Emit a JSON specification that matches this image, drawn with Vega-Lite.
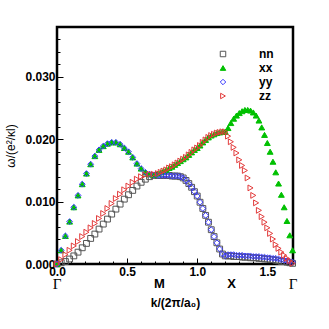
{
  "$schema": "https://vega.github.io/schema/vega-lite/v6.json",
  "width": 236,
  "height": 237,
  "autosize": {"type": "none"},
  "padding": {"left": 57, "top": 27, "right": 36, "bottom": 65},
  "config": {
    "view": {"stroke": "black", "strokeWidth": 2.5},
    "font": "Liberation Sans"
  },
  "datasets": {
    "bands": [
      {"k": 0.00, "nn": 0.0000, "xx": 0.0000, "yy": 0.0000, "zz": 0.0000},
      {"k": 0.03, "nn": 0.0002, "xx": 0.0022, "yy": 0.0022, "zz": 0.0007},
      {"k": 0.06, "nn": 0.0004, "xx": 0.0045, "yy": 0.0045, "zz": 0.0015},
      {"k": 0.09, "nn": 0.0008, "xx": 0.0068, "yy": 0.0068, "zz": 0.0022},
      {"k": 0.12, "nn": 0.0013, "xx": 0.0091, "yy": 0.0091, "zz": 0.0029},
      {"k": 0.15, "nn": 0.0019, "xx": 0.0110, "yy": 0.0110, "zz": 0.0036},
      {"k": 0.18, "nn": 0.0026, "xx": 0.0128, "yy": 0.0128, "zz": 0.0044},
      {"k": 0.21, "nn": 0.0033, "xx": 0.0145, "yy": 0.0145, "zz": 0.0051},
      {"k": 0.24, "nn": 0.0041, "xx": 0.0160, "yy": 0.0160, "zz": 0.0058},
      {"k": 0.27, "nn": 0.0048, "xx": 0.0173, "yy": 0.0173, "zz": 0.0065},
      {"k": 0.30, "nn": 0.0056, "xx": 0.0183, "yy": 0.0183, "zz": 0.0073},
      {"k": 0.33, "nn": 0.0064, "xx": 0.0189, "yy": 0.0189, "zz": 0.0081},
      {"k": 0.36, "nn": 0.0072, "xx": 0.0193, "yy": 0.0193, "zz": 0.0089},
      {"k": 0.39, "nn": 0.0080, "xx": 0.0195, "yy": 0.0195, "zz": 0.0097},
      {"k": 0.42, "nn": 0.0088, "xx": 0.0195, "yy": 0.0195, "zz": 0.0105},
      {"k": 0.45, "nn": 0.0096, "xx": 0.0192, "yy": 0.0192, "zz": 0.0112},
      {"k": 0.48, "nn": 0.0104, "xx": 0.0186, "yy": 0.0186, "zz": 0.0119},
      {"k": 0.51, "nn": 0.0111, "xx": 0.0180, "yy": 0.0180, "zz": 0.0125},
      {"k": 0.54, "nn": 0.0118, "xx": 0.0171, "yy": 0.0171, "zz": 0.0131},
      {"k": 0.57, "nn": 0.0125, "xx": 0.0161, "yy": 0.0161, "zz": 0.0136},
      {"k": 0.60, "nn": 0.0131, "xx": 0.0153, "yy": 0.0153, "zz": 0.0140},
      {"k": 0.63, "nn": 0.0136, "xx": 0.0147, "yy": 0.0147, "zz": 0.0143},
      {"k": 0.66, "nn": 0.0140, "xx": 0.0144, "yy": 0.0144, "zz": 0.0144},
      {"k": 0.69, "nn": 0.0142, "xx": 0.0143, "yy": 0.0143, "zz": 0.0144},
      {"k": 0.72, "nn": 0.0142, "xx": 0.0145, "yy": 0.0142, "zz": 0.0145},
      {"k": 0.74, "nn": 0.0142, "xx": 0.0147, "yy": 0.0142, "zz": 0.0147},
      {"k": 0.76, "nn": 0.0142, "xx": 0.0149, "yy": 0.0142, "zz": 0.0149},
      {"k": 0.78, "nn": 0.0142, "xx": 0.0151, "yy": 0.0142, "zz": 0.0151},
      {"k": 0.80, "nn": 0.0142, "xx": 0.0154, "yy": 0.0142, "zz": 0.0154},
      {"k": 0.82, "nn": 0.0141, "xx": 0.0156, "yy": 0.0141, "zz": 0.0156},
      {"k": 0.84, "nn": 0.0141, "xx": 0.0159, "yy": 0.0141, "zz": 0.0159},
      {"k": 0.86, "nn": 0.0141, "xx": 0.0162, "yy": 0.0141, "zz": 0.0162},
      {"k": 0.88, "nn": 0.0140, "xx": 0.0165, "yy": 0.0140, "zz": 0.0165},
      {"k": 0.90, "nn": 0.0138, "xx": 0.0168, "yy": 0.0138, "zz": 0.0168},
      {"k": 0.92, "nn": 0.0134, "xx": 0.0171, "yy": 0.0134, "zz": 0.0171},
      {"k": 0.94, "nn": 0.0129, "xx": 0.0175, "yy": 0.0129, "zz": 0.0175},
      {"k": 0.96, "nn": 0.0123, "xx": 0.0179, "yy": 0.0123, "zz": 0.0179},
      {"k": 0.98, "nn": 0.0116, "xx": 0.0183, "yy": 0.0116, "zz": 0.0183},
      {"k": 1.00, "nn": 0.0109, "xx": 0.0186, "yy": 0.0109, "zz": 0.0186},
      {"k": 1.02, "nn": 0.0099, "xx": 0.0190, "yy": 0.0099, "zz": 0.0190},
      {"k": 1.04, "nn": 0.0089, "xx": 0.0195, "yy": 0.0089, "zz": 0.0195},
      {"k": 1.06, "nn": 0.0078, "xx": 0.0199, "yy": 0.0078, "zz": 0.0199},
      {"k": 1.08, "nn": 0.0067, "xx": 0.0203, "yy": 0.0067, "zz": 0.0203},
      {"k": 1.10, "nn": 0.0055, "xx": 0.0206, "yy": 0.0055, "zz": 0.0206},
      {"k": 1.12, "nn": 0.0044, "xx": 0.0208, "yy": 0.0044, "zz": 0.0208},
      {"k": 1.14, "nn": 0.0034, "xx": 0.0210, "yy": 0.0034, "zz": 0.0210},
      {"k": 1.16, "nn": 0.0024, "xx": 0.0211, "yy": 0.0024, "zz": 0.0211},
      {"k": 1.18, "nn": 0.0016, "xx": 0.0212, "yy": 0.0016, "zz": 0.0212},
      {"k": 1.20, "nn": 0.0013, "xx": 0.0212, "yy": 0.0013, "zz": 0.0212},
      {"k": 1.22, "nn": 0.0013, "xx": 0.0218, "yy": 0.0015, "zz": 0.0205},
      {"k": 1.24, "nn": 0.0013, "xx": 0.0226, "yy": 0.0015, "zz": 0.0196},
      {"k": 1.26, "nn": 0.0012, "xx": 0.0233, "yy": 0.0015, "zz": 0.0187},
      {"k": 1.28, "nn": 0.0012, "xx": 0.0238, "yy": 0.0014, "zz": 0.0178},
      {"k": 1.30, "nn": 0.0012, "xx": 0.0242, "yy": 0.0014, "zz": 0.0167},
      {"k": 1.32, "nn": 0.0011, "xx": 0.0245, "yy": 0.0014, "zz": 0.0158},
      {"k": 1.34, "nn": 0.0011, "xx": 0.0247, "yy": 0.0013, "zz": 0.0150},
      {"k": 1.36, "nn": 0.0011, "xx": 0.0247, "yy": 0.0013, "zz": 0.0138},
      {"k": 1.38, "nn": 0.0010, "xx": 0.0246, "yy": 0.0013, "zz": 0.0122},
      {"k": 1.40, "nn": 0.0010, "xx": 0.0243, "yy": 0.0012, "zz": 0.0110},
      {"k": 1.42, "nn": 0.0010, "xx": 0.0238, "yy": 0.0012, "zz": 0.0098},
      {"k": 1.44, "nn": 0.0009, "xx": 0.0230, "yy": 0.0012, "zz": 0.0086},
      {"k": 1.46, "nn": 0.0009, "xx": 0.0219, "yy": 0.0011, "zz": 0.0076},
      {"k": 1.48, "nn": 0.0008, "xx": 0.0207, "yy": 0.0011, "zz": 0.0067},
      {"k": 1.50, "nn": 0.0008, "xx": 0.0194, "yy": 0.0010, "zz": 0.0058},
      {"k": 1.52, "nn": 0.0007, "xx": 0.0180, "yy": 0.0010, "zz": 0.0049},
      {"k": 1.54, "nn": 0.0007, "xx": 0.0164, "yy": 0.0009, "zz": 0.0040},
      {"k": 1.56, "nn": 0.0006, "xx": 0.0147, "yy": 0.0009, "zz": 0.0031},
      {"k": 1.58, "nn": 0.0005, "xx": 0.0129, "yy": 0.0008, "zz": 0.0025},
      {"k": 1.60, "nn": 0.0004, "xx": 0.0111, "yy": 0.0007, "zz": 0.0019},
      {"k": 1.62, "nn": 0.0004, "xx": 0.0091, "yy": 0.0006, "zz": 0.0014},
      {"k": 1.64, "nn": 0.0003, "xx": 0.0069, "yy": 0.0005, "zz": 0.0009},
      {"k": 1.66, "nn": 0.0002, "xx": 0.0046, "yy": 0.0004, "zz": 0.0005},
      {"k": 1.68, "nn": 0.0001, "xx": 0.0022, "yy": 0.0003, "zz": 0.0001}
    ],
    "points": [
      {"k": 0, "lab": "Γ"},
      {"k": 0.73, "lab": "M"},
      {"k": 1.245, "lab": "X"},
      {"k": 1.683, "lab": "Γ"}
    ]
  },
  "layer": [
    {
      "data": {"name": "bands"},
      "transform": [{"fold": ["nn", "xx", "yy", "zz"], "as": ["series", "w"]}],
      "mark": {"type": "point", "size": 34, "strokeWidth": 1, "opacity": 1},
      "encoding": {
        "x": {
          "field": "k", "type": "quantitative",
          "scale": {"domain": [0, 1.683], "nice": false, "zero": false},
          "axis": {
            "orient": "bottom", "values": [0, 0.5, 1, 1.5], "format": ".1f",
            "tickSize": -6, "tickColor": "black", "tickWidth": 1,
            "labelPadding": 8, "labelFlush": false, "labelOverlap": false,
            "labelFontWeight": "bold", "labelFontSize": 12, "labelColor": "black",
            "domain": false, "grid": false,
            "title": "k/(2π/a₀)", "titleFontWeight": "bold", "titleFontSize": 12,
            "titleColor": "black", "titlePadding": 20
          }
        },
        "y": {
          "field": "w", "type": "quantitative",
          "scale": {"domain": [0, 0.038], "nice": false},
          "axis": {
            "orient": "left", "values": [0, 0.01, 0.02, 0.03], "format": ".3f",
            "tickSize": -6, "tickColor": "black", "tickWidth": 1,
            "labelPadding": 8, "labelFlush": false, "labelOverlap": false,
            "labelFontWeight": "bold", "labelFontSize": 12, "labelColor": "black",
            "domain": false, "grid": false,
            "title": "ω/(e²/κl)", "titleFontWeight": "normal", "titleFontSize": 12,
            "titleColor": "black", "titlePadding": 7
          }
        },
        "shape": {
          "field": "series", "type": "nominal",
          "scale": {"domain": ["nn", "xx", "yy", "zz"], "range": ["square", "triangle-up", "diamond", "triangle-right"]},
          "legend": {
            "orient": "none", "legendX": 160, "legendY": 21, "title": null, "padding": 0,
            "labelFontWeight": "bold", "labelFontSize": 12, "labelColor": "black",
            "labelOffset": 30, "rowPadding": 2, "symbolSize": 30, "symbolStrokeWidth": 1
          }
        },
        "stroke": {
          "field": "series", "type": "nominal",
          "scale": {"domain": ["nn", "xx", "yy", "zz"], "range": ["#555555", "#00c000", "#3a3aff", "#e23a3a"]},
          "legend": {
            "orient": "none", "legendX": 160, "legendY": 21, "title": null, "padding": 0,
            "labelFontWeight": "bold", "labelFontSize": 12, "labelColor": "black",
            "labelOffset": 30, "rowPadding": 2, "symbolSize": 30, "symbolStrokeWidth": 1
          }
        },
        "fill": {
          "field": "series", "type": "nominal",
          "scale": {"domain": ["nn", "xx", "yy", "zz"], "range": ["transparent", "#00c000", "transparent", "transparent"]},
          "legend": {
            "orient": "none", "legendX": 160, "legendY": 21, "title": null, "padding": 0,
            "labelFontWeight": "bold", "labelFontSize": 12, "labelColor": "black",
            "labelOffset": 30, "rowPadding": 2, "symbolSize": 30, "symbolStrokeWidth": 1
          }
        },
        "order": {"field": "series", "type": "nominal"}
      }
    },
    {
      "data": {"name": "points"},
      "transform": [{"filter": "datum.lab == 'Γ'"}],
      "mark": {"type": "text", "font": "Liberation Serif", "fontSize": 15, "dy": 20, "baseline": "middle", "align": "center", "color": "black"},
      "encoding": {
        "x": {
          "field": "k", "type": "quantitative",
          "axis": {
            "orient": "bottom",
            "values": [0.1, 0.2, 0.3, 0.4, 0.6, 0.7, 0.8, 0.9, 1.1, 1.2, 1.3, 1.4, 1.6],
            "tickSize": -3, "tickColor": "black", "tickWidth": 1,
            "labels": false, "domain": false, "grid": false, "title": null
          }
        },
        "y": {
          "datum": 0, "type": "quantitative",
          "axis": {
            "orient": "left",
            "values": [0.002, 0.004, 0.006, 0.008, 0.012, 0.014, 0.016, 0.018, 0.022, 0.024, 0.026, 0.028, 0.032, 0.034, 0.036],
            "tickSize": -3, "tickColor": "black", "tickWidth": 1,
            "labels": false, "domain": false, "grid": false, "title": null
          }
        },
        "text": {"field": "lab"}
      }
    },
    {
      "data": {"name": "points"},
      "transform": [{"filter": "datum.lab != 'Γ'"}],
      "mark": {"type": "text", "font": "Liberation Sans", "fontWeight": "bold", "fontSize": 13, "dy": 20, "baseline": "middle", "align": "center", "color": "black"},
      "encoding": {
        "x": {"field": "k", "type": "quantitative", "axis": null},
        "y": {"datum": 0, "type": "quantitative", "axis": null},
        "text": {"field": "lab"}
      }
    }
  ],
  "resolve": {"axis": {"x": "independent", "y": "independent"}}
}
